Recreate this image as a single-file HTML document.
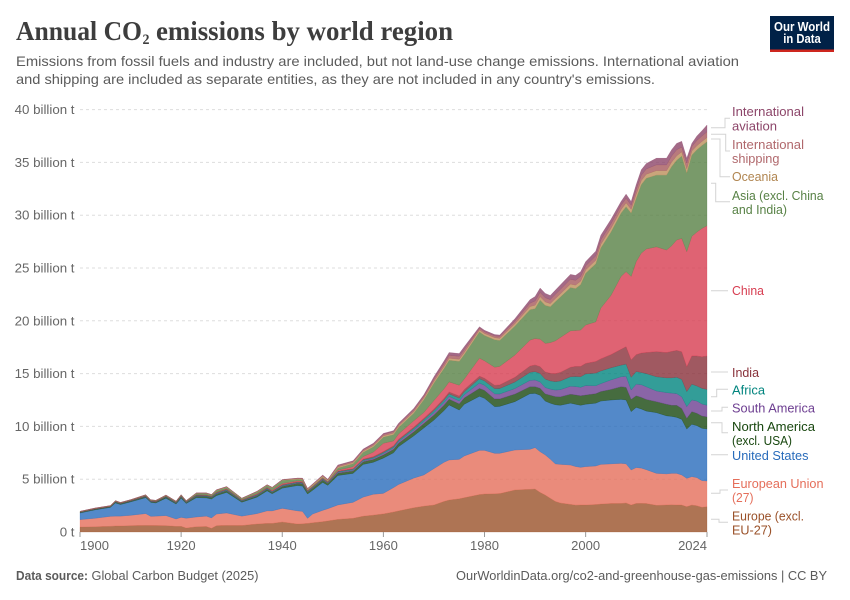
<!DOCTYPE html>
<html lang="en">
<head>
<meta charset="utf-8">
<title>Annual CO2 emissions by world region</title>
<style>
html,body{margin:0;padding:0;background:#fff;}
svg{display:block;font-family:"Liberation Sans",sans-serif;}
.lbl{font-size:13px;}
</style>
</head>
<body>
<svg id="chart" width="850" height="600" viewBox="0 0 850 600" xmlns="http://www.w3.org/2000/svg">
  <rect width="850" height="600" fill="#fff"/>
  <g font-family="'Liberation Serif',serif" font-weight="700" fill="#3d3d3d">
    <text x="16" y="40" font-size="27" textLength="126" lengthAdjust="spacingAndGlyphs">Annual CO</text>
    <text x="142.5" y="44" font-size="15" textLength="7" lengthAdjust="spacingAndGlyphs">2</text>
    <text x="156" y="40" font-size="27" textLength="297" lengthAdjust="spacingAndGlyphs">emissions by world region</text>
  </g>
  <g font-size="14" fill="#5b5b5b">
    <text x="16" y="66" textLength="723" lengthAdjust="spacingAndGlyphs">Emissions from fossil fuels and industry are included, but not land-use change emissions. International aviation</text>
    <text x="16" y="84" textLength="639" lengthAdjust="spacingAndGlyphs">and shipping are included as separate entities, as they are not included in any country's emissions.</text>
  </g>
  <g>
    <rect x="770" y="16" width="64" height="36" fill="#002147"/>
    <rect x="770" y="49.5" width="64" height="2.5" fill="#ce261e"/>
    <text x="802" y="31" font-size="12.5" font-weight="700" fill="#fff" text-anchor="middle" textLength="56" lengthAdjust="spacingAndGlyphs">Our World</text>
    <text x="802" y="43" font-size="12.5" font-weight="700" fill="#fff" text-anchor="middle" textLength="37.5" lengthAdjust="spacingAndGlyphs">in Data</text>
  </g>
  <g id="grid"></g>
  <g id="yLabels"></g>
  <g id="areas"></g>
  <g id="xAxis"></g>

  <g fill="none" stroke="#d4d4d4" stroke-width="1">
    <path d="M711 127.7H725V118.3H730"/>
    <path d="M711 134.3H725.7V151H730"/>
    <path d="M711 139H720V176.7H730"/>
    <path d="M711 183.3H715.7V201.7H730"/>
    <path d="M711 290.7H728"/>
    <path d="M711 372H728"/>
    <path d="M711 396.7H716.7V389.3H728"/>
    <path d="M711 411H722V407.3H728"/>
    <path d="M711 422.7H722V432.7H728"/>
    <path d="M711 454.7H728"/>
    <path d="M711 493.3H720V490H728"/>
    <path d="M711 519.3H719V522.3H728"/>
  </g>

  <g class="lbl" fill="#8C4569">
    <text x="732" y="116" textLength="72" lengthAdjust="spacingAndGlyphs">International</text>
    <text x="732" y="130.5" textLength="45" lengthAdjust="spacingAndGlyphs">aviation</text>
  </g>
  <g class="lbl" fill="#B0686C">
    <text x="732" y="149" textLength="72" lengthAdjust="spacingAndGlyphs">International</text>
    <text x="732" y="163" textLength="47.5" lengthAdjust="spacingAndGlyphs">shipping</text>
  </g>
  <g class="lbl" fill="#B08550">
    <text x="732" y="181" textLength="46" lengthAdjust="spacingAndGlyphs">Oceania</text>
  </g>
  <g class="lbl" fill="#578145">
    <text x="732" y="200" textLength="91.5" lengthAdjust="spacingAndGlyphs">Asia (excl. China</text>
    <text x="732" y="214" textLength="55" lengthAdjust="spacingAndGlyphs">and India)</text>
  </g>
  <g class="lbl" fill="#D73C50">
    <text x="732" y="295" textLength="32" lengthAdjust="spacingAndGlyphs">China</text>
  </g>
  <g class="lbl" fill="#883039">
    <text x="732" y="377" textLength="27" lengthAdjust="spacingAndGlyphs">India</text>
  </g>
  <g class="lbl" fill="#00847E">
    <text x="732" y="394.5" textLength="33" lengthAdjust="spacingAndGlyphs">Africa</text>
  </g>
  <g class="lbl" fill="#6D3E91">
    <text x="732" y="412.5" textLength="83" lengthAdjust="spacingAndGlyphs">South America</text>
  </g>
  <g class="lbl" fill="#18470F">
    <text x="732" y="431" textLength="83" lengthAdjust="spacingAndGlyphs">North America</text>
    <text x="732" y="445" textLength="60" lengthAdjust="spacingAndGlyphs">(excl. USA)</text>
  </g>
  <g class="lbl" fill="#286BBB">
    <text x="732" y="460" textLength="76.5" lengthAdjust="spacingAndGlyphs">United States</text>
  </g>
  <g class="lbl" fill="#E56E5A">
    <text x="732" y="488" textLength="91.5" lengthAdjust="spacingAndGlyphs">European Union</text>
    <text x="732" y="502" textLength="21.5" lengthAdjust="spacingAndGlyphs">(27)</text>
  </g>
  <g class="lbl" fill="#9A5129">
    <text x="732" y="520.5" textLength="72" lengthAdjust="spacingAndGlyphs">Europe (excl.</text>
    <text x="732" y="534.5" textLength="40" lengthAdjust="spacingAndGlyphs">EU-27)</text>
  </g>

  <g font-size="13" fill="#5b5b5b">
    <text x="16" y="580" font-weight="700" textLength="72" lengthAdjust="spacingAndGlyphs">Data source:</text>
    <text x="91.5" y="580" textLength="167" lengthAdjust="spacingAndGlyphs">Global Carbon Budget (2025)</text>
  </g>
  <text x="456" y="580" font-size="13" fill="#5b5b5b" textLength="371" lengthAdjust="spacingAndGlyphs">OurWorldinData.org/co2-and-greenhouse-gas-emissions | CC BY</text>
</svg>

<script>
const years = [1900,1903,1906,1907,1908,1910,1913,1914,1915,1917,
1919,1920,1921,1923,1925,1926,1927,1929,1932,1935,
1937,1938,1940,1943,1944,1945,1946,1948,1949,1951,
1954,1956,1958,1960,1962,1963,1966,1968,1970,1972,
1973,1975,1976,1979,1980,1982,1983,1986,1989,1990,
1991,1992,1993,1994,1995,1997,1998,1999,2000,2002,
2003,2005,2007,2008,2009,2010,2011,2012,2014,2016,
2017,2018,2019,2020,2021,2022,2023,2024];

const europeExclEu = [.47,.50,.55,.57,.57,.60,.63,.62,.61,.60,
.54,.54,.38,.50,.52,.35,.60,.63,.62,.76,
.82,.82,.95,.76,.78,.82,.88,.98,1.05,1.20,
1.30,1.50,1.60,1.72,1.90,2.00,2.30,2.45,2.56,2.90,
3.03,3.15,3.25,3.55,3.60,3.62,3.64,3.98,4.05,4.07,
3.75,3.50,3.20,2.90,2.75,2.62,2.55,2.56,2.56,2.60,
2.65,2.70,2.71,2.75,2.56,2.71,2.72,2.70,2.53,2.56,
2.58,2.56,2.56,2.40,2.56,2.49,2.34,2.40];

const europeanUnion = [.70,.80,.93,.93,.93,.98,1.11,.86,.89,.95,
.69,.85,.92,.92,.98,.98,1.10,1.17,.88,.98,
1.18,1.18,1.29,1.24,1.17,.47,.82,1.07,1.15,1.36,
1.51,1.80,1.97,1.94,2.30,2.50,2.80,2.95,3.44,3.70,
3.79,3.73,3.95,4.18,4.13,3.83,3.81,3.78,3.78,3.92,
3.85,3.80,3.70,3.55,3.65,3.72,3.65,3.56,3.63,3.65,
3.75,3.75,3.79,3.70,3.31,3.39,3.33,3.20,3.02,2.94,
2.97,2.99,2.84,2.68,2.68,2.66,2.52,2.43];

const unitedStates = [.63,.80,.85,1.25,1.10,1.27,1.51,1.32,1.25,1.65,
1.42,1.81,1.40,1.83,1.73,1.79,1.75,1.95,1.32,1.56,
1.90,1.62,1.91,2.40,2.40,2.31,2.25,2.65,2.22,2.79,
2.74,3.10,3.03,3.34,3.30,3.58,4.00,4.45,4.60,4.90,
5.21,4.67,4.90,5.12,4.93,4.42,4.45,4.58,5.27,5.14,
5.35,5.10,5.30,5.60,5.60,5.86,5.90,5.88,5.91,5.95,
6.00,6.05,6.06,6.05,5.53,5.70,5.60,5.55,5.75,5.50,
5.40,5.31,5.27,4.67,4.96,4.92,4.96,4.92];

const northAmerica = [.06,.06,.06,.08,.07,.07,.09,.08,.08,.10,
.09,.11,.08,.14,.14,.13,.15,.16,.09,.12,
.15,.13,.17,.21,.22,.19,.20,.23,.19,.23,
.23,.25,.26,.30,.32,.33,.38,.42,.48,.52,
.55,.58,.60,.75,.75,.73,.70,.72,.66,.63,
.66,.68,.75,.77,.80,.85,.88,.90,.87,.90,
.90,1.00,1.20,1.20,1.16,1.10,1.10,1.10,1.04,1.10,
1.05,1.14,1.03,1.01,1.20,1.17,1.16,1.15];

const southAmerica = [.01,.01,.01,.01,.01,.01,.02,.02,.02,.02,
.02,.03,.03,.03,.03,.03,.04,.04,.03,.04,
.04,.04,.05,.05,.05,.05,.05,.06,.05,.08,
.09,.10,.11,.13,.14,.15,.18,.20,.22,.25,
.26,.28,.30,.50,.48,.48,.47,.52,.60,.63,
.60,.60,.58,.62,.68,.75,.80,.80,.90,.75,
.75,.90,.94,1.05,.89,1.10,1.20,1.20,1.01,1.10,
1.15,1.10,1.10,1.11,1.10,1.16,1.14,1.10];

const africa = [.01,.01,.01,.02,.02,.02,.03,.02,.02,.03,
.03,.03,.03,.04,.04,.04,.05,.05,.04,.05,
.05,.05,.06,.05,.05,.04,.04,.05,.04,.06,
.07,.08,.09,.10,.11,.12,.15,.17,.20,.22,
.24,.27,.28,.42,.42,.50,.52,.62,.76,.80,
.80,.80,.78,.80,.82,.90,.95,1.00,1.10,1.20,
1.20,1.15,1.10,1.15,1.20,1.20,1.15,1.25,1.35,1.40,
1.45,1.55,1.65,1.43,1.50,1.43,1.48,1.50];

const india = [.02,.02,.02,.03,.03,.03,.04,.04,.04,.04,
.04,.04,.04,.05,.05,.05,.06,.06,.05,.06,
.06,.06,.07,.05,.05,.03,.04,.04,.04,.05,
.06,.07,.08,.09,.10,.10,.12,.13,.15,.17,
.18,.20,.21,.24,.25,.32,.34,.45,.60,.63,
.65,.68,.72,.76,.82,.90,.95,.98,1.00,1.10,
1.15,1.25,1.50,1.65,1.65,1.60,1.85,2.00,2.38,2.40,
2.50,2.55,2.62,2.35,2.67,2.84,3.00,3.17];

const china = [.00,.01,.01,.01,.01,.01,.01,.01,.01,.01,
.01,.01,.01,.02,.02,.02,.03,.03,.03,.05,
.04,.06,.09,.08,.08,.03,.03,.04,.03,.09,
.18,.24,.42,.78,.45,.50,.60,.55,.80,.90,
.95,1.02,1.00,1.70,1.65,1.70,1.75,2.10,2.45,2.50,
2.60,2.70,2.90,3.10,3.30,3.45,3.40,3.44,3.63,3.75,
4.80,5.60,6.90,7.10,7.90,8.80,9.45,9.80,9.92,9.70,
10.00,10.45,10.73,10.90,11.33,11.73,12.15,12.33];

const asiaOther = [.03,.03,.03,.04,.03,.04,.05,.05,.05,.06,
.05,.07,.05,.12,.14,.11,.16,.15,.10,.17,
.18,.21,.31,.14,.17,.05,.07,.08,.06,.20,
.28,.40,.50,.58,.60,.62,.72,1.20,1.65,1.93,
2.05,2.26,2.32,2.49,2.40,2.61,2.46,2.75,2.88,2.83,
3.70,3.60,3.40,3.70,3.83,4.10,3.97,4.30,4.90,5.50,
5.70,6.00,6.00,6.15,6.00,6.00,6.50,6.70,6.80,7.10,
7.50,7.55,7.80,7.45,7.70,7.80,7.85,7.96];

const oceania = [.02,.02,.02,.02,.02,.02,.03,.02,.02,.03,
.02,.03,.02,.03,.03,.03,.04,.04,.03,.04,
.04,.04,.04,.07,.07,.07,.08,.09,.08,.11,
.11,.12,.12,.13,.14,.14,.15,.17,.18,.19,
.20,.20,.20,.19,.19,.20,.20,.22,.30,.33,
.33,.33,.30,.30,.30,.33,.33,.33,.32,.33,
.34,.36,.33,.37,.36,.38,.38,.38,.42,.42,
.42,.42,.40,.40,.38,.38,.38,.39];

const shipping = [.01,.01,.01,.01,.01,.01,.01,.01,.01,.01,
.01,.01,.01,.02,.02,.02,.02,.02,.01,.02,
.02,.02,.02,.05,.05,.05,.06,.07,.06,.12,
.12,.12,.13,.14,.15,.15,.17,.18,.22,.27,
.28,.28,.28,.17,.17,.17,.18,.24,.32,.40,
.40,.40,.38,.40,.42,.46,.45,.45,.38,.42,
.42,.42,.42,.43,.38,.46,.50,.50,.55,.55,
.58,.58,.45,.55,.42,.50,.52,.55];

const aviation = [0,0,0,0,0,0,0,0,0,0,
0,0,0,0,0,0,0,0,0,0,
0,0,0,0,.01,.02,.03,.04,.03,.06,
.06,.08,.09,.09,.09,.11,.13,.13,.20,.25,
.26,.26,.26,.13,.13,.12,.13,.24,.33,.42,
.41,.41,.39,.40,.43,.46,.47,.45,.40,.45,
.44,.42,.35,.40,.36,.46,.52,.52,.63,.63,
.60,.60,.55,.45,.30,.42,.50,.64];

const xTickYears = [1900,1920,1940,1960,1980,2000,2024];
const yTickValues = [0,5,10,15,20,25,30,35,40];
const yTickLabels = ["0 t","5 billion t","10 billion t","15 billion t","20 billion t","25 billion t","30 billion t","35 billion t","40 billion t"];

const seriesNames = ["europe-excl-eu","european-union","united-states","north-america-excl-usa","south-america","africa","india","china","asia-excl-china-india","oceania","international-shipping","international-aviation"];
const seriesValues = [europeExclEu,europeanUnion,unitedStates,northAmerica,southAmerica,africa,india,china,asiaOther,oceania,shipping,aviation];
const seriesColors = ["#9A5129","#E56E5A","#286BBB","#18470F","#6D3E91","#00847E","#883039","#D73C50","#578145","#BC8E5A","#A6595C","#8C4569"];

const NS = "http://www.w3.org/2000/svg";
const plotLeft = 80, plotRight = 707, plotBottom = 532, plotTop = 109.6;
function xScale(yr){ return plotLeft + (yr - 1900) / (2024 - 1900) * (plotRight - plotLeft); }
function yScale(v){ return plotBottom - v / 40 * (plotBottom - plotTop); }

const gridG = document.getElementById("grid");
const yG = document.getElementById("yLabels");
yTickValues.forEach(function(v, i){
  if (v > 0) {
    const ln = document.createElementNS(NS, "line");
    
    
    ln.setAttribute("x1", plotLeft);
    ln.setAttribute("x2", plotRight);
    ln.setAttribute("y1", yScale(v));
    ln.setAttribute("y2", yScale(v));
    ln.setAttribute("stroke", "#dddddd");
    ln.setAttribute("stroke-dasharray", "3,3");
    gridG.appendChild(ln);
  }
  const t = document.createElementNS(NS, "text");
  
  
  t.setAttribute("x", 74.5);
  t.setAttribute("y", yScale(v) + 4.5);
  t.setAttribute("text-anchor", "end");
  t.setAttribute("font-size", "13.3");
  t.setAttribute("fill", "#666666");
  t.textContent = yTickLabels[i];
  yG.appendChild(t);
});

const areasG = document.getElementById("areas");
const baseline = years.map(function(){ return 0; });
seriesValues.forEach(function(vals, s){
  const tops = vals.map(function(v, i){ return baseline[i] + v; });
  let d = "";
  years.forEach(function(yr, i){
    d += (i ? "L" : "M") + xScale(yr).toFixed(2) + " " + yScale(tops[i]).toFixed(2);
  });
  for (let i = years.length - 1; i >= 0; i--) {
    d += "L" + xScale(years[i]).toFixed(2) + " " + yScale(baseline[i]).toFixed(2);
  }
  d += "Z";
  const p = document.createElementNS(NS, "path");
  
  
  p.setAttribute("d", d);
  p.setAttribute("fill", seriesColors[s]);
  p.setAttribute("fill-opacity", "0.8");
  p.setAttribute("stroke", seriesColors[s]);
  p.setAttribute("stroke-width", "0.4");
  p.setAttribute("stroke-opacity", "0.6");
  areasG.appendChild(p);
  tops.forEach(function(v, i){ baseline[i] = v; });
});

const xG = document.getElementById("xAxis");
xTickYears.forEach(function(yr, i){
  const tk = document.createElementNS(NS, "line");
  
  
  tk.setAttribute("x1", xScale(yr));
  tk.setAttribute("x2", xScale(yr));
  tk.setAttribute("y1", plotBottom);
  tk.setAttribute("y2", plotBottom + 5);
  tk.setAttribute("stroke", "#999999");
  xG.appendChild(tk);
  const t = document.createElementNS(NS, "text");
  
  
  t.setAttribute("x", xScale(yr));
  t.setAttribute("y", 550);
  t.setAttribute("text-anchor", i === 0 ? "start" : (i === xTickYears.length - 1 ? "end" : "middle"));
  t.setAttribute("font-size", "13");
  t.setAttribute("fill", "#666666");
  t.textContent = yr;
  xG.appendChild(t);
});
</script>
</body>
</html>
